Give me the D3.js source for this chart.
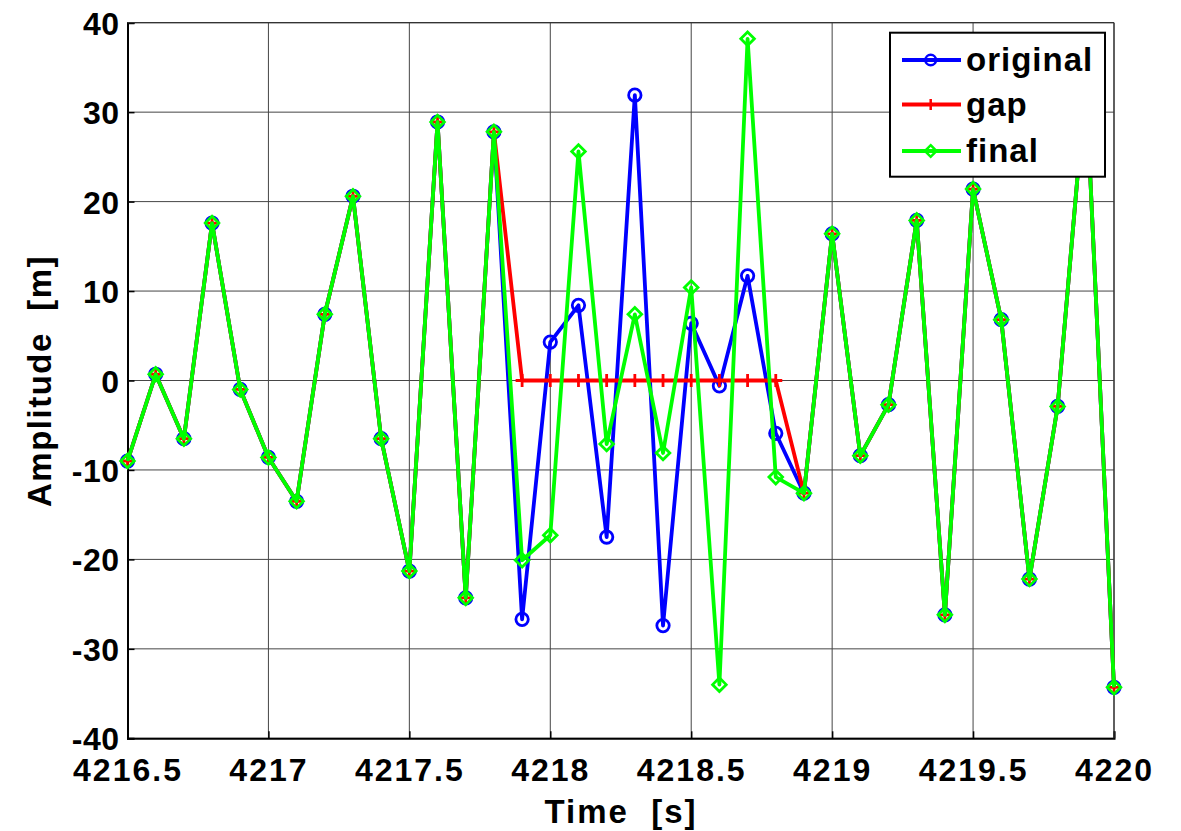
<!DOCTYPE html>
<html>
<head>
<meta charset="utf-8">
<script src="https://cdn.jsdelivr.net/npm/d3@7"></script>
<style>
  body { margin: 0; background: #fff; }
  svg text { font-family: "Liberation Sans", Arial, sans-serif; font-weight: bold; fill: #000; }
</style>
</head>
<body>
<svg id="chart"></svg>
<script>
// sample times [s]
var times = [4216.5, 4216.6, 4216.7, 4216.8, 4216.9, 4217.0, 4217.1, 4217.2, 4217.3, 4217.4,
             4217.5, 4217.6, 4217.7, 4217.8, 4217.9, 4218.0, 4218.1, 4218.2, 4218.3, 4218.4,
             4218.5, 4218.6, 4218.7, 4218.8, 4218.9, 4219.0, 4219.1, 4219.2, 4219.3, 4219.4,
             4219.5, 4219.6, 4219.7, 4219.8, 4219.9, 4220.0];

var original = [-9.0, 0.7, -6.5, 17.6, -1.0, -8.6, -13.5, 7.4, 20.6, -6.5,
                -21.3, 28.9, -24.3, 27.8, -26.7, 4.3, 8.4, -17.5, 31.9, -27.4,
                6.4, -0.6, 11.7, -5.9, -12.6, 16.4, -8.4, -2.7, 17.9, -26.2,
                21.4, 6.8, -22.2, -2.9, 33.5, -34.3];

var gap = [-9.0, 0.7, -6.5, 17.6, -1.0, -8.6, -13.5, 7.4, 20.6, -6.5,
           -21.3, 28.9, -24.3, 27.8, 0, 0, 0, 0, 0, 0,
           0, 0, 0, 0, -12.6, 16.4, -8.4, -2.7, 17.9, -26.2,
           21.4, 6.8, -22.2, -2.9, 33.5, -34.3];

var final = [-9.0, 0.7, -6.5, 17.6, -1.0, -8.6, -13.5, 7.4, 20.6, -6.5,
             -21.3, 28.9, -24.3, 27.8, -20.1, -17.3, 25.6, -7.1, 7.4, -8.1,
             10.4, -34.0, 38.2, -10.8, -12.6, 16.4, -8.4, -2.7, 17.9, -26.2,
             21.4, 6.8, -22.2, -2.9, 33.5, -34.3];

var xTicks = [4216.5, 4217, 4217.5, 4218, 4218.5, 4219, 4219.5, 4220];
var yTicks = [-40, -30, -20, -10, 0, 10, 20, 30, 40];

var seriesNames = ["original", "gap", "final"];
var seriesColors = ["#0000ff", "#ff0000", "#00ff00"];
var seriesMarkers = ["circle", "plus", "diamond"];

var width = 1181, height = 831;
var pLeft = 127.5, pRight = 1114, pTop = 22.7, pBottom = 738.3;

var svg = d3.select("#chart").attr("width", width).attr("height", height);

var x = d3.scaleLinear().domain([4216.5, 4220]).range([pLeft, pRight]);
var y = d3.scaleLinear().domain([-40, 40]).range([pBottom, pTop]);

// grid
var grid = svg.append("g").attr("stroke", "#262626").attr("stroke-width", 1).attr("opacity", 0.85);
grid.selectAll("line.vx").data(xTicks).enter().append("line")
  .attr("x1", d => x(d)).attr("x2", d => x(d)).attr("y1", pTop).attr("y2", pBottom);
grid.selectAll("line.hy").data(yTicks).enter().append("line")
  .attr("x1", pLeft).attr("x2", pRight).attr("y1", d => y(d)).attr("y2", d => y(d));

// axes (ticks inward, labels bold, plain hyphen for minus like matlab)
var fmt = d => String(d);
var xAxis = d3.axisBottom(x).tickValues(xTicks).tickSize(-7).tickPadding(20).tickFormat(fmt);
var yAxis = d3.axisLeft(y).tickValues(yTicks).tickSize(-7).tickPadding(8).tickFormat(fmt);

var gx = svg.append("g").attr("transform", "translate(0," + pBottom + ")").call(xAxis);
var gy = svg.append("g").attr("transform", "translate(" + pLeft + ",0)").call(yAxis);
[gx, gy].forEach(function(g) {
  g.select(".domain").attr("stroke", "#000").attr("stroke-width", 2);
  g.selectAll(".tick line").attr("stroke", "#000").attr("stroke-width", 1.5);
  g.selectAll(".tick text").style("font-size", "32px").style("font-family", "Liberation Sans, Arial, sans-serif")
    .style("font-weight", "bold").attr("fill", "#000");
});
gx.selectAll(".tick text").attr("dy", "0.71em").style("letter-spacing", "2px");
gy.selectAll(".tick text").attr("dy", "0.36em").style("letter-spacing", "0.5px");

// top / right box
svg.append("line").attr("x1", pLeft).attr("x2", pRight).attr("y1", pTop).attr("y2", pTop)
  .attr("stroke", "#333").attr("stroke-width", 1.2);
svg.append("line").attr("x1", pRight).attr("x2", pRight).attr("y1", pTop).attr("y2", pBottom)
  .attr("stroke", "#333").attr("stroke-width", 1.2);

// axis labels
svg.append("text").attr("x", 621).attr("y", 823).attr("text-anchor", "middle")
  .style("font-size", "33px").style("letter-spacing", "2px")
  .attr("xml:space", "preserve").text("Time  [s]");
svg.append("text").attr("transform", "translate(51,381) rotate(-90)").attr("text-anchor", "middle")
  .style("font-size", "33px").style("letter-spacing", "1.5px")
  .attr("xml:space", "preserve").text("Amplitude  [m]");

function markerPath(type, s) {
  if (type == "circle") return d3.symbol(d3.symbolCircle, Math.PI * s * s)();
  if (type == "plus") return "M" + (-s) + ",0H" + s + "M0," + (-s) + "V" + s;
  return "M0," + (-s) + "L" + s + ",0L0," + s + "L" + (-s) + ",0Z";
}
var markerSize = [6.2, 6.5, 6.8];

var allSeries = [original, gap, final];
var line = d3.line().x((d, i) => x(times[i])).y(d => y(d));

allSeries.forEach(function(vals, k) {
  var g = svg.append("g").attr("class", "series-" + seriesNames[k]);
  g.append("path").datum(vals).attr("d", line)
    .attr("fill", "none").attr("stroke", seriesColors[k]).attr("stroke-width", 3.8)
    .attr("stroke-linejoin", "round");
  g.selectAll("path.m").data(vals).enter().append("path").attr("class", "m")
    .attr("transform", (d, i) => "translate(" + x(times[i]) + "," + y(d) + ")")
    .attr("d", markerPath(seriesMarkers[k], markerSize[k]))
    .attr("fill", "none").attr("stroke", seriesColors[k]).attr("stroke-width", 2.8);
});

// legend
var lg = svg.append("g");
lg.append("rect").attr("x", 890).attr("y", 32.7).attr("width", 215).attr("height", 144)
  .attr("fill", "#fff").attr("stroke", "#000").attr("stroke-width", 2);
var rowY = [60, 104.5, 151];
seriesNames.forEach(function(name, k) {
  lg.append("line").attr("x1", 902).attr("x2", 961).attr("y1", rowY[k]).attr("y2", rowY[k])
    .attr("stroke", seriesColors[k]).attr("stroke-width", 3.8);
  lg.append("path").attr("transform", "translate(930.7," + rowY[k] + ")")
    .attr("d", markerPath(seriesMarkers[k], markerSize[k] * 0.85))
    .attr("fill", "none").attr("stroke", seriesColors[k]).attr("stroke-width", 2.5);
  lg.append("text").attr("x", 966).attr("y", rowY[k] + 11).style("font-size", "33px")
    .style("letter-spacing", "1px").text(name);
});
</script>
</body>
</html>
